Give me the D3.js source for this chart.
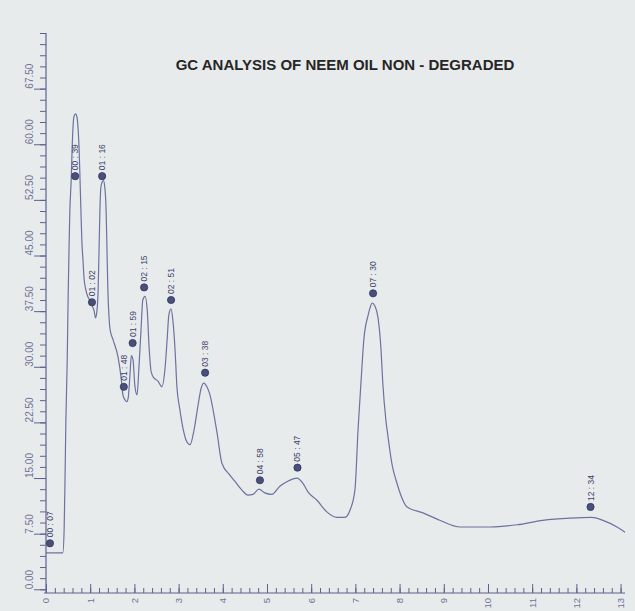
<!DOCTYPE html>
<html>
<head>
<meta charset="utf-8">
<script src="https://cdn.jsdelivr.net/npm/d3@7"></script>
<style>
  html, body { margin: 0; padding: 0; background: #e8ebeb; }
  #chart { width: 635px; height: 611px; }
  text { font-family: "Liberation Sans", Arial, sans-serif; }
</style>
</head>
<body>
<div id="chart"></div>
<script>
// Chromatogram trace: retention time (min) and signal
const traceTime = [0, 0.38, 0.41, 0.43, 0.45, 0.48, 0.50, 0.52, 0.54, 0.57, 0.59, 0.61, 0.63, 0.67, 0.70, 0.72,
  0.75, 0.77, 0.79, 0.81, 0.84, 0.86, 0.90, 0.95, 1.00, 1.04, 1.09, 1.12, 1.15, 1.18, 1.20, 1.22, 1.24, 1.27,
  1.30, 1.33, 1.36, 1.38, 1.40, 1.43, 1.45, 1.52, 1.63, 1.70, 1.74, 1.79, 1.83, 1.86, 1.90, 1.93, 1.97, 2.01,
  2.06, 2.10, 2.15, 2.19, 2.24, 2.29, 2.33, 2.38, 2.44, 2.53, 2.62, 2.69, 2.74, 2.78, 2.83, 2.87, 2.92, 2.96,
  3.03, 3.10, 3.17, 3.26, 3.35, 3.44, 3.51, 3.57, 3.64, 3.71, 3.78, 3.87, 3.98, 4.16, 4.28, 4.43, 4.57, 4.68,
  4.82, 4.95, 5.11, 5.29, 5.45, 5.68, 5.81, 5.93, 6.13, 6.36, 6.58, 6.76, 6.88, 6.99, 7.06, 7.13, 7.19, 7.29,
  7.33, 7.38, 7.44, 7.51, 7.58, 7.62, 7.69, 7.74, 7.83, 7.94, 8.17, 8.53, 8.91, 9.37, 10.05, 10.66, 11.24,
  11.86, 12.35, 12.60, 12.92, 13.10];
const traceSignal = [4.9, 4.9, 8.0, 14.7, 22.8, 30.9, 39.0, 45.7, 51.1, 55.2, 59.2, 62.2, 63.7, 64.1, 63.7, 62.6,
  59.2, 55.2, 51.1, 47.1, 44.1, 42.0, 40.4, 39.4, 38.9, 38.3, 37.5, 36.6, 37.4, 40.4, 45.7, 51.1, 54.1, 54.9,
  55.1, 54.2, 51.1, 45.7, 40.4, 36.3, 35.0, 33.6, 31.3, 28.5, 26.2, 25.5, 25.3, 25.8, 28.9, 31.5, 30.9, 27.5,
  26.2, 29.6, 35.0, 39.0, 39.5, 37.7, 32.9, 29.3, 28.5, 28.1, 27.3, 29.6, 33.6, 37.0, 37.8, 36.3, 32.3, 27.5,
  24.2, 21.7, 20.1, 19.5, 21.5, 24.8, 27.1, 27.8, 27.3, 26.2, 24.2, 21.1, 17.0, 15.4, 14.5, 13.4, 12.7, 12.8,
  13.5, 13.0, 12.8, 13.9, 14.5, 15.0, 14.3, 13.1, 12.0, 10.4, 9.7, 9.7, 10.7, 13.4, 21.5, 28.2, 33.6, 37.0,
  37.9, 38.6, 38.2, 36.7, 32.3, 27.8, 22.8, 20.5, 16.8, 14.3, 11.1, 10.3, 9.3, 8.4, 8.4, 8.7, 9.3,
  9.6, 9.7, 9.3, 8.4, 7.7];

// Peak markers: label, position on the plot
const peakLabels = ["00 : 07", "00 : 39", "01 : 02", "01 : 16", "01 : 48", "01 : 59", "02 : 15",
  "02 : 51", "03 : 38", "04 : 58", "05 : 47", "07 : 30", "12 : 34"];
const peakTime = [0.09, 0.66, 1.04, 1.27, 1.76, 1.96, 2.22, 2.83, 3.60, 4.84, 5.69, 7.40, 12.32];
const peakSignal = [6.2, 55.7, 38.7, 55.7, 27.3, 33.2, 40.7, 39.0, 29.2, 14.7, 16.4, 39.9, 11.1];

const xMajor = d3.range(0, 14, 1);
const xMinor = d3.range(0, 13.1, 0.2);
const yMajor = d3.range(0, 68, 7.5);
const yMinor = d3.range(0, 75.1, 1.5);

const width = 635, height = 611;
const svg = d3.select('#chart').append('svg')
  .attr('width', width).attr('height', height);

svg.append('rect').attr('width', width).attr('height', height).attr('fill', '#e8ebeb');

const x = d3.scaleLinear().domain([0, 13.1]).range([46, 625]);
const y = d3.scaleLinear().domain([-0.5, 75]).range([593, 33]);

const axisColor = '#5c628f';
const labelColor = '#6d7398';

// Title
svg.append('text')
  .attr('x', 345).attr('y', 70)
  .attr('text-anchor', 'middle')
  .attr('font-size', 15).attr('font-weight', 'bold')
  .attr('fill', '#262626')
  .text('GC ANALYSIS OF NEEM OIL NON - DEGRADED');

// Y axis
const yAxisG = svg.append('g').attr('transform', `translate(${x(0)},0)`);
yAxisG.call(d3.axisLeft(y).tickValues(yMinor).tickSize(6).tickFormat(''));
yAxisG.call(g => g.select('.domain').remove());
yAxisG.append('g').call(d3.axisLeft(y).tickValues(yMajor).tickSize(12).tickFormat(''))
  .call(g => g.select('.domain').remove());
yAxisG.selectAll('line').attr('stroke', axisColor).attr('stroke-width', 1);
svg.append('line')
  .attr('x1', x(0)).attr('x2', x(0))
  .attr('y1', y(75)).attr('y2', y(-0.5))
  .attr('stroke', axisColor).attr('stroke-width', 1.2);

svg.append('g').selectAll('text')
  .data(yMajor)
  .join('text')
  .attr('transform', d => `translate(29,${y(d)}) rotate(-90)`)
  .attr('dy', '0.35em')
  .attr('text-anchor', 'start')
  .attr('font-size', 10)
  .attr('fill', labelColor)
  .text(d => d3.format('.2f')(d));

// X axis
const xAxisG = svg.append('g').attr('transform', `translate(0,${y(-0.5)})`);
xAxisG.call(d3.axisTop(x).tickValues(xMinor).tickSize(5).tickFormat(''));
xAxisG.call(g => g.select('.domain').remove());
xAxisG.append('g').call(d3.axisTop(x).tickValues(xMajor).tickSize(9).tickFormat(''))
  .call(g => g.select('.domain').remove());
xAxisG.selectAll('line').attr('stroke', axisColor).attr('stroke-width', 1);
svg.append('line')
  .attr('x1', x(0) - 2).attr('x2', x(13.1))
  .attr('y1', y(-0.5)).attr('y2', y(-0.5))
  .attr('stroke', axisColor).attr('stroke-width', 1.2);

svg.append('g').selectAll('text')
  .data(xMajor)
  .join('text')
  .attr('transform', d => `translate(${x(d)},${y(-0.5) + 5}) rotate(-90)`)
  .attr('dy', '0.35em')
  .attr('text-anchor', 'end')
  .attr('font-size', 9.5)
  .attr('fill', labelColor)
  .text(d => d);

// Trace
const trace = traceTime.map((t, i) => [t, traceSignal[i]]);
const line = d3.line()
  .x(d => x(d[0]))
  .y(d => y(d[1]))
  .curve(d3.curveMonotoneX);

svg.append('path')
  .datum(trace)
  .attr('d', line)
  .attr('fill', 'none')
  .attr('stroke', '#6c729f')
  .attr('stroke-width', 1.2);

// Peak markers
const peaks = peakLabels.map((l, i) => ({ label: l, t: peakTime[i], v: peakSignal[i] }));
const pk = svg.append('g').selectAll('g')
  .data(peaks)
  .join('g')
  .attr('transform', d => `translate(${x(d.t)},${y(d.v)})`);

pk.append('circle')
  .attr('r', 3.6)
  .attr('fill', '#4a4f7c')
  .attr('stroke', '#30345e')
  .attr('stroke-width', 0.8);

pk.append('text')
  .attr('transform', 'translate(0,-6) rotate(-90)')
  .attr('dy', '0.35em')
  .attr('text-anchor', 'start')
  .attr('font-size', 8.5)
  .attr('fill', '#3c416c')
  .text(d => d.label);
</script>
</body>
</html>
